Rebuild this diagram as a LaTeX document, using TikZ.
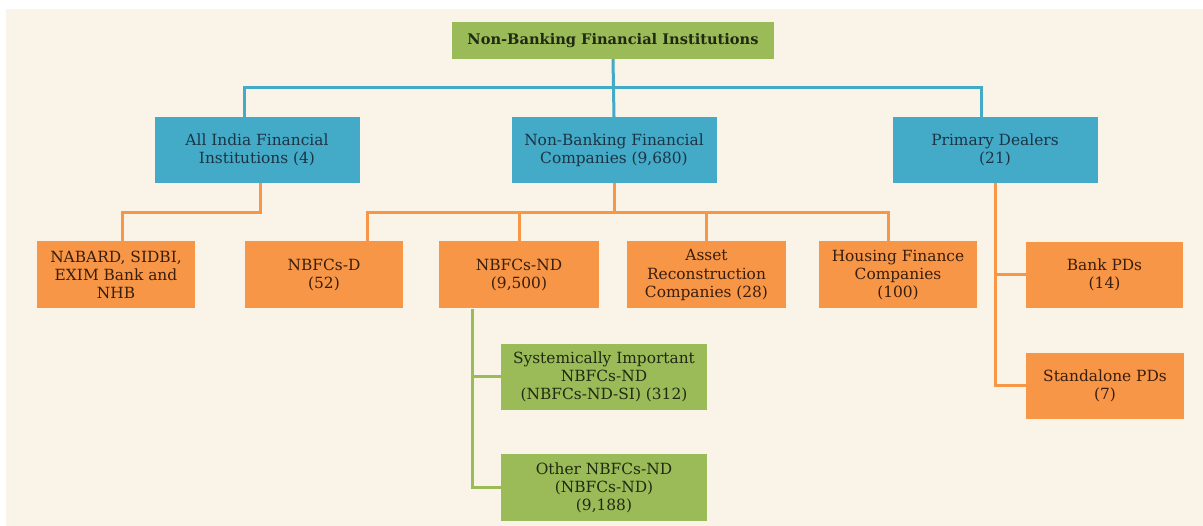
\documentclass[tikz,border=0pt]{standalone}
\usepackage{fontspec}
\setmainfont{DejaVu Serif}
\usepackage{tikz}

\definecolor{cream}{HTML}{FAF3E8}
\definecolor{nbgreen}{HTML}{9BBB59}
\definecolor{nbblue}{HTML}{43AAC7}
\definecolor{nborange}{HTML}{F79646}
\definecolor{greentext}{HTML}{1F2A12}
\definecolor{bluetext}{HTML}{1D3444}
\definecolor{orangetext}{HTML}{3A1D0C}

\begin{document}
\begin{tikzpicture}[x=1pt,y=-1pt,
  box/.style={rectangle, inner sep=0pt, align=center, font=\fontsize{15.4}{18.3}\selectfont},
  greenbox/.style={box, fill=nbgreen, text=greentext, minimum width=206pt, minimum height=66pt},
  bluebox/.style={box, fill=nbblue, text=bluetext, minimum width=205pt, minimum height=66pt},
  orangebox/.style={box, fill=nborange, text=orangetext, minimum width=158pt, minimum height=67pt},
  bluelink/.style={draw=nbblue, line width=3pt},
  orangelink/.style={draw=nborange, line width=3pt},
  greenlink/.style={draw=nbgreen, line width=3pt}]
  \fill[white] (0,0) rectangle (1203,526);
  \fill[cream] (6,9) rectangle (1203,526);
  \useasboundingbox (0,0) rectangle (1203,526);

  % top level
  \node[greenbox, minimum width=322pt, minimum height=37pt, font=\fontsize{14.6}{17}\selectfont\bfseries] (nbfi) at (613,40.5) {Non-Banking Financial Institutions};

  % second level
  \node[bluebox] (aifi) at (257,150) {All India Financial\\Institutions (4)};
  \node[bluebox] (nbfc) at (614,150) {Non-Banking Financial\\Companies (9,680)};
  \node[bluebox] (pd) at (995,150) {Primary Dealers\\(21)};

  % third level
  \node[orangebox] (nabard) at (116,275) {NABARD, SIDBI,\\EXIM Bank and\\NHB};
  \node[orangebox] (nbfcd) at (324,275) {NBFCs-D\\(52)};
  \node[orangebox, minimum width=160pt] (nbfcnd) at (519,275) {NBFCs-ND\\(9,500)};
  \node[orangebox, minimum width=159pt] (arc) at (706.5,275) {Asset\\Reconstruction\\Companies (28)};
  \node[orangebox] (hfc) at (898,275) {Housing Finance\\Companies\\(100)};
  \node[orangebox, minimum width=157pt, minimum height=66pt] (bankpd) at (1104.5,275) {Bank PDs\\(14)};
  \node[orangebox, minimum height=66pt] (standpd) at (1105,386) {Standalone PDs\\(7)};

  % NBFCs-ND split
  \node[greenbox] (ndsi) at (604,377) {Systemically Important\\NBFCs-ND\\(NBFCs-ND-SI) (312)};
  \node[greenbox, minimum height=67pt] (ndother) at (604,488) {Other NBFCs-ND\\(NBFCs-ND)\\(9,188)};

  \coordinate (bluebus) at (0,88);
  \coordinate (orangebus) at (0,213);

  \draw[bluelink] (nbfi.south) -- (nbfc.north);
  \draw[bluelink] ([xshift=-13pt]aifi.north) -- ([xshift=-13pt]aifi.north |- bluebus)
    -- ([xshift=-14pt]pd.north |- bluebus) -- ([xshift=-14pt]pd.north);

  \draw[orangelink] ([xshift=3pt]aifi.south) -- ([xshift=3pt]aifi.south |- orangebus)
    -- ([xshift=6pt]nabard.north |- orangebus) -- ([xshift=6pt]nabard.north);
  \draw[orangelink] (nbfc.south) -- (nbfc.south |- orangebus);
  \draw[orangelink] ([xshift=43pt]nbfcd.north) -- ([xshift=43pt]nbfcd.north |- orangebus)
    -- ([xshift=-10pt]hfc.north |- orangebus) -- ([xshift=-10pt]hfc.north);
  \draw[orangelink] (nbfcnd.north) -- (nbfcnd.north |- orangebus);
  \draw[orangelink] (arc.north) -- (arc.north |- orangebus);
  \draw[orangelink] (pd.south) |- (bankpd.west);
  \draw[orangelink] (pd.south) |- (standpd.west);

  \draw[greenlink] ([xshift=-47pt]nbfcnd.south) |- (ndsi.west);
  \draw[greenlink] ([xshift=-47pt]nbfcnd.south) |- (ndother.west);
\end{tikzpicture}
\end{document}
